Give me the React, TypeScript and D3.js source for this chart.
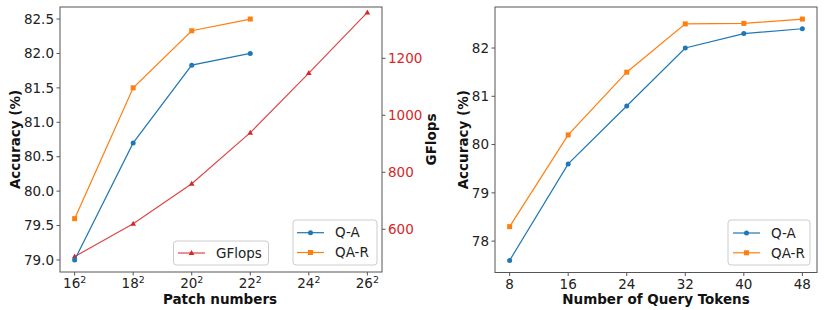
import React from 'react';
import * as d3 from 'd3';

// data
const patchBases = ['16', '18', '20', '22', '24', '26'];
const qaPatch = [79.0, 80.7, 81.83, 82.0];
const qarPatch = [79.6, 81.5, 82.33, 82.5];
const gflops = [504, 619, 760, 939, 1148, 1361];

const queryTokens = [8, 16, 24, 32, 40, 48];
const qaQuery = [77.6, 79.6, 80.8, 82.0, 82.3, 82.4];
const qarQuery = [78.3, 80.2, 81.5, 82.5, 82.51, 82.6];

const leftAccTicks = [79.0, 79.5, 80.0, 80.5, 81.0, 81.5, 82.0, 82.5];
const gflopsTicks = [600, 800, 1000, 1200];
const rightAccTicks = [78, 79, 80, 81, 82];

const BLUE = '#1f77b4';
const ORANGE = '#ff7f0e';
const RED = '#d62728';
const SPINE = '#555';
const FONT = 'DejaVu Sans, sans-serif';
const FS = 13.5;

// matplotlib-like 5% margins
const padded = (vals: number[]): [number, number] => {
  const [lo, hi] = d3.extent(vals) as [number, number];
  const m = (hi - lo) * 0.05;
  return [lo - m, hi + m];
};

const Circle = ({ x, y, c }: { x: number; y: number; c: string }) => <circle cx={x} cy={y} r={2.5} fill={c} />;
const Square = ({ x, y, c }: { x: number; y: number; c: string }) => <rect x={x - 2.5} y={y - 2.5} width={5} height={5} fill={c} />;
const Tri = ({ x, y, c }: { x: number; y: number; c: string }) => (
  <path d={`M${x},${y - 3}L${x + 2.8},${y + 2}L${x - 2.8},${y + 2}Z`} fill={c} />
);

const Frame = ({ x0, x1, y0, y1 }: { x0: number; x1: number; y0: number; y1: number }) => (
  <rect x={x0} y={y0} width={x1 - x0} height={y1 - y0} fill="none" stroke={SPINE} strokeWidth={1} />
);

const LegendBox = ({ x, y, w, h }: { x: number; y: number; w: number; h: number }) => (
  <rect x={x} y={y} width={w} height={h} rx={3} fill="white" fillOpacity={0.8} stroke="#ccc" strokeWidth={1} />
);

const LeftPanel = () => {
  const x0 = 60, x1 = 382, y0 = 7, y1 = 272;
  const x = d3.scaleLinear().domain([-0.25, patchBases.length - 0.75]).range([x0, x1]);
  const y = d3.scaleLinear().domain(padded([...qaPatch, ...qarPatch])).range([y1, y0]);
  const yr = d3.scaleLinear().domain([450, 1380]).range([y1, y0]);
  const line = d3.line<number>().x((_, i) => x(i)).y((d) => y(d));
  const lineR = d3.line<number>().x((_, i) => x(i)).y((d) => yr(d));

  return (
    <g fontFamily={FONT} fontSize={FS}>
      <path d={lineR(gflops) ?? ''} fill="none" stroke={RED} strokeWidth={1.2} strokeOpacity={0.85} />
      {gflops.map((d, i) => <Tri key={i} x={x(i)} y={yr(d)} c={RED} />)}
      <path d={line(qaPatch) ?? ''} fill="none" stroke={BLUE} strokeWidth={1.2} />
      {qaPatch.map((d, i) => <Circle key={i} x={x(i)} y={y(d)} c={BLUE} />)}
      <path d={line(qarPatch) ?? ''} fill="none" stroke={ORANGE} strokeWidth={1.2} />
      {qarPatch.map((d, i) => <Square key={i} x={x(i)} y={y(d)} c={ORANGE} />)}
      <Frame x0={x0} x1={x1} y0={y0} y1={y1} />

      {leftAccTicks.map((t) => (
        <g key={t} transform={`translate(${x0},${y(t)})`}>
          <line x1={-3.5} x2={0} stroke={SPINE} />
          <text x={-6} dy="0.35em" textAnchor="end" fill="#222">{t.toFixed(1)}</text>
        </g>
      ))}
      {gflopsTicks.map((t) => (
        <g key={t} transform={`translate(${x1},${yr(t)})`}>
          <line x1={0} x2={3.5} stroke={SPINE} />
          <text x={6} dy="0.35em" fill={RED}>{t}</text>
        </g>
      ))}
      {patchBases.map((b, i) => (
        <g key={b} transform={`translate(${x(i)},${y1})`}>
          <line y1={0} y2={3.5} stroke={SPINE} />
          <text y={16} textAnchor="middle" fill="#222">
            {b}
            <tspan dy={-5} fontSize={FS * 0.7}>2</tspan>
          </text>
        </g>
      ))}
      <text x={(x0 + x1) / 2 - 1} y={304} textAnchor="middle" fontWeight="bold" fill="#111">Patch numbers</text>
      <text transform={`translate(20,${(y0 + y1) / 2}) rotate(-90)`} textAnchor="middle" fontWeight="bold" fill="#111">Accuracy (%)</text>
      <text transform={`translate(436,${(y0 + y1) / 2}) rotate(-90)`} textAnchor="middle" fontWeight="bold" fill="#111">GFlops</text>

      <LegendBox x={173.5} y={241} w={95} h={24} />
      <line x1={178} x2={205} y1={253} y2={253} stroke={RED} strokeWidth={1.2} strokeOpacity={0.85} />
      <Tri x={191.5} y={253} c={RED} />
      <text x={216} y={253} dy="0.35em" fill="#222">GFlops</text>

      <LegendBox x={293} y={220} w={84} h={45} />
      <line x1={297} x2={324} y1={232.7} y2={232.7} stroke={BLUE} strokeWidth={1.2} />
      <Circle x={310.5} y={232.7} c={BLUE} />
      <text x={335} y={232.7} dy="0.35em" fill="#222">Q-A</text>
      <line x1={297} x2={324} y1={252.5} y2={252.5} stroke={ORANGE} strokeWidth={1.2} />
      <Square x={310.5} y={252.5} c={ORANGE} />
      <text x={335} y={252.5} dy="0.35em" fill="#222">QA-R</text>
    </g>
  );
};

const RightPanel = () => {
  const x0 = 495, x1 = 817, y0 = 7, y1 = 272.5;
  const x = d3.scaleLinear().domain(padded(queryTokens)).range([x0, x1]);
  const y = d3.scaleLinear().domain(padded([...qaQuery, ...qarQuery])).range([y1, y0]);
  const line = d3.line<number>().x((_, i) => x(queryTokens[i])).y((d) => y(d));

  return (
    <g fontFamily={FONT} fontSize={FS}>
      <path d={line(qaQuery) ?? ''} fill="none" stroke={BLUE} strokeWidth={1.2} />
      {qaQuery.map((d, i) => <Circle key={i} x={x(queryTokens[i])} y={y(d)} c={BLUE} />)}
      <path d={line(qarQuery) ?? ''} fill="none" stroke={ORANGE} strokeWidth={1.2} />
      {qarQuery.map((d, i) => <Square key={i} x={x(queryTokens[i])} y={y(d)} c={ORANGE} />)}
      <Frame x0={x0} x1={x1} y0={y0} y1={y1} />

      {rightAccTicks.map((t) => (
        <g key={t} transform={`translate(${x0},${y(t)})`}>
          <line x1={-3.5} x2={0} stroke={SPINE} />
          <text x={-6} dy="0.35em" textAnchor="end" fill="#222">{t}</text>
        </g>
      ))}
      {queryTokens.map((t) => (
        <g key={t} transform={`translate(${x(t)},${y1})`}>
          <line y1={0} y2={3.5} stroke={SPINE} />
          <text y={16} textAnchor="middle" fill="#222">{t}</text>
        </g>
      ))}
      <text x={(x0 + x1) / 2} y={304} textAnchor="middle" fontWeight="bold" fill="#111">Number of Query Tokens</text>
      <text transform={`translate(468,${(y0 + y1) / 2}) rotate(-90)`} textAnchor="middle" fontWeight="bold" fill="#111">Accuracy (%)</text>

      <LegendBox x={728} y={220} w={82} h={45} />
      <line x1={733} x2={760} y1={233} y2={233} stroke={BLUE} strokeWidth={1.2} />
      <Circle x={746.5} y={233} c={BLUE} />
      <text x={771} y={233} dy="0.35em" fill="#222">Q-A</text>
      <line x1={733} x2={760} y1={252.8} y2={252.8} stroke={ORANGE} strokeWidth={1.2} />
      <Square x={746.5} y={252.8} c={ORANGE} />
      <text x={771} y={252.8} dy="0.35em" fill="#222">QA-R</text>
    </g>
  );
};

export default function App() {
  return (
    <svg width={830} height={310} style={{ position: 'absolute', left: 0, top: 0, background: 'white' }}>
      <LeftPanel />
      <RightPanel />
    </svg>
  );
}
